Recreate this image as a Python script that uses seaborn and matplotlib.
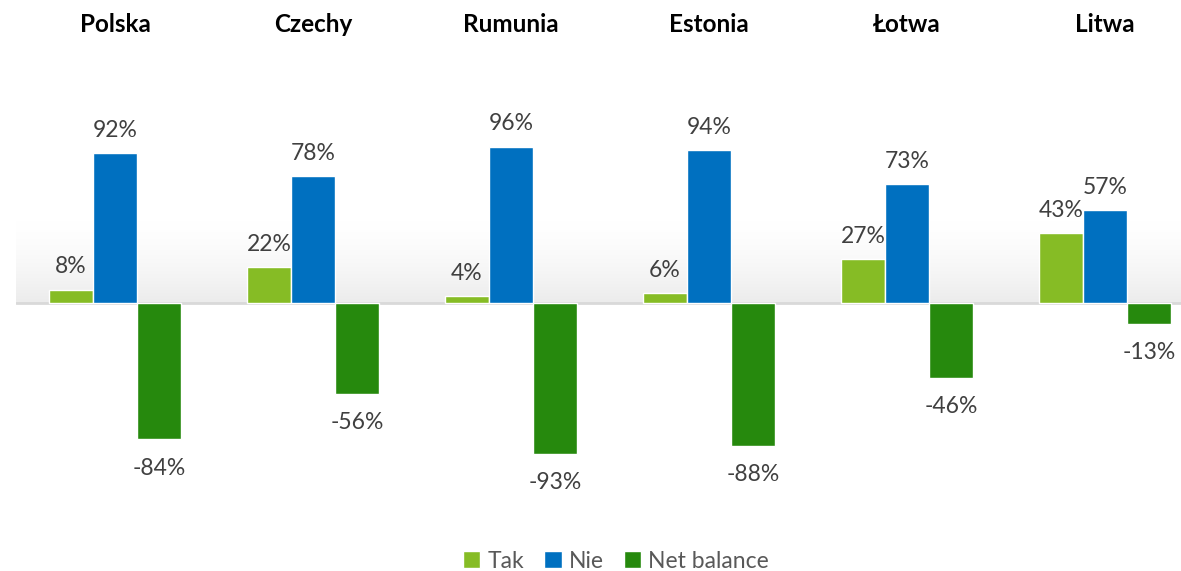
import numpy as np
import pandas as pd
import matplotlib
matplotlib.use("Agg")
import matplotlib.pyplot as plt
import seaborn as sns

countries = ["Polska", "Czechy", "Rumunia", "Estonia", "Łotwa", "Litwa"]
tak = [8, 22, 4, 6, 27, 43]
nie = [92, 78, 96, 94, 73, 57]
net_balance = [-84, -56, -93, -88, -46, -13]
series_names = ["Tak", "Nie", "Net balance"]
colors = ["#86BC25", "#0070C0", "#26890D"]

df = pd.DataFrame({
    "country": countries * 3,
    "series": np.repeat(series_names, len(countries)),
    "value": tak + nie + net_balance,
})

sns.set_theme(style="white")
plt.rcParams["font.family"] = ["Lato", "DejaVu Sans"]

W, H = 1181, 571
fig = plt.figure(figsize=(W / 100, H / 100), dpi=100)
# axes placement in pixels: left 16, right edge of figure, top 60, bottom 510
ax = fig.add_axes([16 / W, 1 - 510 / H, 1 - 16 / W, 450 / H])

sns.barplot(data=df, x="country", y="value", hue="series",
            hue_order=series_names, palette=colors, width=0.667,
            saturation=1, ax=ax, legend=True, zorder=3)

ymin, ymax = -127.4, 149.5
xmax = (W - 115) / 198

# soft grey glow rising from the zero line
n = 256
alpha = np.linspace(1, 0, n) ** 1.6
rgba = np.zeros((n, 1, 4))
rgba[..., :3] = 0.90
rgba[:, 0, 3] = alpha * 0.75
ax.imshow(rgba, extent=[-0.5, xmax, 0, 52], aspect="auto", zorder=1,
          origin="lower", interpolation="bilinear")
ax.set_xlim(-0.5, xmax)
ax.set_ylim(ymin, ymax)

ax.axhline(0, color="#d9d9d9", lw=2, zorder=2)

for cont, pad in zip(ax.containers, [9, 9, 13]):
    vals = [b.get_height() for b in cont]
    ax.bar_label(cont, labels=[f"{v:.0f}%" for v in vals], padding=pad,
                 fontsize=16.5, color="#404040")

title_y = (303 - 25) / 1.625
for i, c in enumerate(countries):
    ax.text(i, title_y, c, ha="center", va="center",
            fontsize=17.5, fontweight="bold", color="black", clip_on=False)

ax.set_xlabel("")
ax.set_ylabel("")
ax.set_xticks([])
ax.set_yticks([])
for s in ax.spines.values():
    s.set_visible(False)

leg = ax.legend(loc="center", bbox_to_anchor=(616 / W, 1 - 561 / H),
                bbox_transform=fig.transFigure, ncol=3, frameon=False,
                fontsize=16.5, handlelength=0.75, handleheight=0.75,
                handletextpad=0.3, columnspacing=0.9)
for t in leg.get_texts():
    t.set_color("#595959")

fig.savefig("out.png", dpi=100)
